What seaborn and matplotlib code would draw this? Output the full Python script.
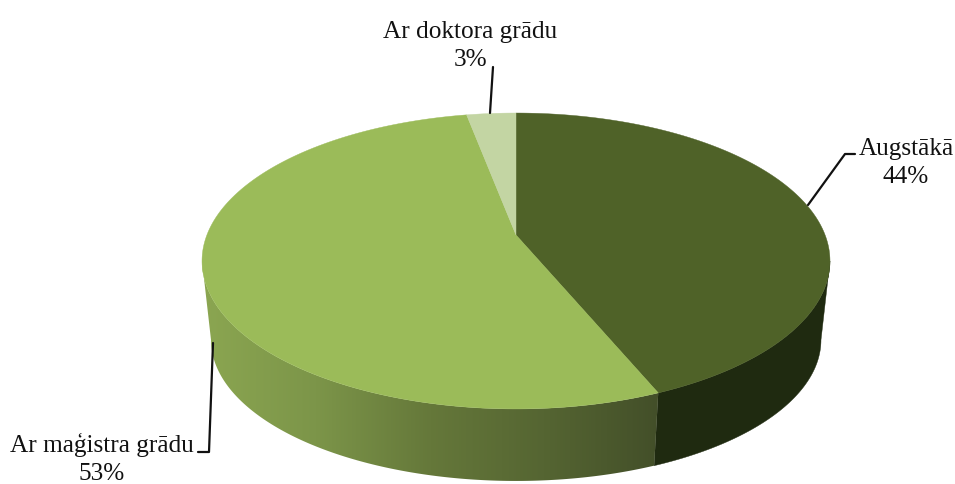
import numpy as np
import matplotlib
matplotlib.use('Agg')
import matplotlib.pyplot as plt
from matplotlib.patches import Polygon
import seaborn as sns

# slices, clockwise from the top (shown rounded on the labels)
labels = ['Augstākā', 'Ar maģistra grādu', 'Ar doktora grādu']
values = [43.7, 53.3, 3]
top_colors = ['#4f6228', '#9bbb59', '#c3d5a3']
side_colors = ['#1f2a10', None, '#a9b88c']
green_side = ['#8ba651', '#7c9549', '#65783a', '#556532', '#434f29']

sns.set_theme(style='white')
plt.rcParams['font.family'] = ['Liberation Serif', 'DejaVu Serif']

# pie geometry in pixels
cx, cy = 516, 235      # where the slices meet
ax_u, ax_v = 309.1, 143.4
k = 0.1756             # perspective
ell_cy, ell_rx, ell_ry = 261, 314, 148
low_cy, low_rx, low_ry = 340, 305, 141


def project(theta):
    u, v = np.sin(theta), np.cos(theta)
    w = 1 + k * v
    return cx + ax_u * u / w, cy - ax_v * v / w


def lower(x, y):
    return cx + (x - cx) * low_rx / ell_rx, low_cy + (y - ell_cy) * low_ry / ell_ry


fig = plt.figure(figsize=(9.55, 4.84), dpi=100)
ax = fig.add_axes([0, 0, 1, 1])

cmap = sns.blend_palette(green_side, as_cmap=True)
edges = np.cumsum([0] + values) / sum(values) * 2 * np.pi

# only the front part of the wall shows, between the two widest points of the rim
front_a = np.arccos(-k)
front_b = 2 * np.pi - front_a

for i in range(len(values)):
    a = max(edges[i], front_a)
    b = min(edges[i + 1], front_b)
    if b <= a:
        continue
    th = np.linspace(a, b, 300)
    x, y = project(th)
    lx, ly = lower(x, y)
    px = np.r_[x, lx[::-1]]
    py = np.r_[y, ly[::-1]]
    if side_colors[i] is None:
        # gradient runs left to right, between the wall ends
        poly = Polygon(np.c_[px, py], closed=True, fc='none', ec='none')
        ax.add_patch(poly)
        im = ax.imshow(np.linspace(0, 1, 256)[None, :], cmap=cmap, vmin=0, vmax=1,
                       extent=(px.min(), px.max(), py.max(), py.min()), aspect='auto', zorder=1)
        im.set_clip_path(poly)
    else:
        ax.fill(px, py, color=side_colors[i], lw=0.3, zorder=1)

# top face
for i in range(len(values)):
    th = np.linspace(edges[i], edges[i + 1], 200)
    x, y = project(th)
    ax.fill(np.r_[cx, x], np.r_[cy, y], color=top_colors[i], lw=0.3, zorder=2)

# leader lines
ax.plot([808, 845, 855], [205, 154, 154], color='#111111', lw=1.6, zorder=3)
ax.plot([213, 209, 198], [343, 452, 452], color='#111111', lw=1.6, zorder=3)
ax.plot([493, 490], [67, 113], color='#111111', lw=1.6, zorder=3)

# labels
pos = [(906, 163), (102, 459), (470, 46)]
for name, val, (tx, ty) in zip(labels, values, pos):
    ax.text(tx, ty, f'{name}\n{val:.0f}%', ha='center', va='center', fontsize=18.2,
            color='#111111', linespacing=1.35, zorder=4)

ax.set_xlim(0, 955)
ax.set_ylim(484, 0)
ax.axis('off')

fig.savefig('out.png', dpi=100)
